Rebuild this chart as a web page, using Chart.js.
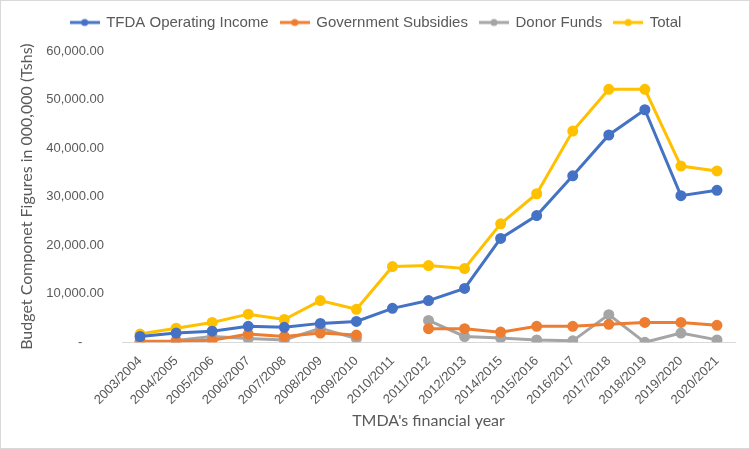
<!DOCTYPE html>
<html>
<head>
<meta charset="utf-8">
<script src="https://cdn.jsdelivr.net/npm/chart.js@4"></script>
<style>
  html, body { margin: 0; padding: 0; background: #fff; }
  #wrap { width: 748px; height: 447px; border: 1px solid #d9d9d9; position: relative; }
</style>
</head>
<body>
<div id="wrap"><canvas id="mainChart" width="748" height="447"></canvas></div>
<script>
// categories + series
const years = ['2003/2004', '2004/2005', '2005/2006', '2006/2007', '2007/2008', '2008/2009', '2009/2010',
  '2010/2011', '2011/2012', '2012/2013', '2014/2015', '2015/2016', '2016/2017', '2017/2018',
  '2018/2019', '2019/2020', '2020/2021'];
const tfdaIncome = [1200, 1900, 2300, 3300, 3100, 3900, 4300, 7000, 8600, 11100, 21400, 26100, 34300, 42700, 47900, 30200, 31300];
const govSubsidies = [200, 200, 400, 1700, 1200, 1900, 1500, null, 2800, 2800, 2100, 3300, 3300, 3700, 4100, 4100, 3500];
const donorFunds = [null, 400, 1200, 800, 500, 2900, 800, null, 4500, 1200, 900, 500, 300, 5700, 0, 1900, 500];
const total = [1700, 2900, 4100, 5800, 4700, 8600, 6800, 15600, 15800, 15200, 24400, 30600, 43500, 52100, 52100, 36300, 35300];
const yTicks = [0, 10000, 20000, 30000, 40000, 50000, 60000];

const txt = '#595959';

// legend marker: short line with a dot in the middle
function legendIcon(color) {
  const c = document.createElement('canvas');
  c.width = 30; c.height = 10;
  const g = c.getContext('2d');
  g.strokeStyle = color; g.lineWidth = 3;
  g.beginPath(); g.moveTo(0, 5); g.lineTo(30, 5); g.stroke();
  g.fillStyle = color;
  g.beginPath(); g.arc(15, 5, 3.5, 0, Math.PI * 2); g.fill();
  return c;
}

function series(label, data, color) {
  return {
    label: label,
    data: data,
    borderColor: color,
    backgroundColor: color,
    borderWidth: 3,
    pointRadius: 4,
    pointHoverRadius: 5,
    pointStyle: 'circle',
    spanGaps: false,
    tension: 0
  };
}

// extra room under the legend
const legendMargin = {
  id: 'legendMargin',
  beforeInit(chart) {
    const fit = chart.legend.fit;
    chart.legend.fit = function () {
      fit.bind(chart.legend)();
      this.height += 11;
    };
  }
};

const ctx = document.getElementById('mainChart');
new Chart(ctx, {
  type: 'line',
  data: {
    labels: years,
    datasets: [
      series('TFDA Operating Income', tfdaIncome, '#4472C4'),
      series('Government Subsidies', govSubsidies, '#ED7D31'),
      series('Donor Funds', donorFunds, '#A5A5A5'),
      series('Total', total, '#FFC000')
    ]
  },
  plugins: [legendMargin],
  options: {
    responsive: false,
    animation: false,
    layout: { padding: { left: 16, right: 14, top: 2, bottom: 18 } },
    plugins: {
      legend: {
        position: 'top',
        labels: {
          color: txt,
          font: { family: 'Liberation Sans, Arial', size: 15 },
          boxHeight: 10,
          pointStyleWidth: 28,
          padding: 12,
          usePointStyle: true,
          generateLabels(chart) {
            return chart.data.datasets.map((ds, i) => ({
              text: ds.label,
              fontColor: txt,
              pointStyle: legendIcon(ds.borderColor),
              datasetIndex: i,
              hidden: false,
              lineWidth: 0,
              strokeStyle: ds.borderColor,
              fillStyle: ds.borderColor
            }));
          }
        }
      },
      tooltip: { enabled: true }
    },
    scales: {
      x: {
        offset: true,
        grid: { display: false, offset: true },
        border: { color: '#d9d9d9', width: 1 },
        ticks: {
          color: txt,
          font: { family: 'Liberation Sans, Arial', size: 13 },
          maxRotation: 45,
          minRotation: 45,
          autoSkip: false
        },
        title: {
          display: true,
          text: "TMDA's financial year",
          color: txt,
          font: { family: 'Lato, Open Sans', size: 16 },
          padding: { top: 0, bottom: 0 }
        }
      },
      y: {
        min: 0,
        max: 60000,
        afterBuildTicks(axis) {
          axis.ticks = yTicks.map(v => ({ value: v }));
        },
        grid: { display: false },
        border: { display: false },
        ticks: {
          color: txt,
          padding: 10,
          font: { family: 'Liberation Sans, Arial', size: 13 },
          callback(v) {
            if (v === 0) return '-      ';
            return v.toLocaleString('en-US', { minimumFractionDigits: 2, maximumFractionDigits: 2 });
          }
        },
        title: {
          display: true,
          text: 'Budget Componet Figures in 000,000 (Tshs)',
          color: txt,
          font: { family: 'Lato, Open Sans', size: 16 },
          padding: { top: 0, bottom: 0 }
        }
      }
    }
  }
});
</script>
</body>
</html>
